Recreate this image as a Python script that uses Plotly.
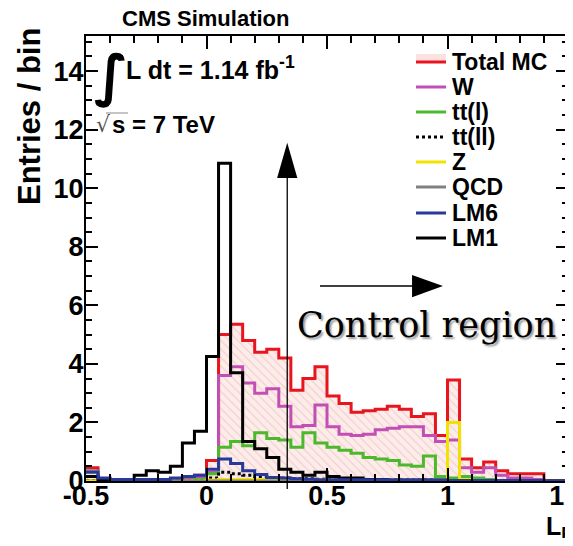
import plotly.graph_objects as go

# bin edges of L_P histograms (40 bins of 0.05 from -0.5 to 1.5)
bin_edges = [round(-0.5 + 0.05 * i, 2) for i in range(41)]

total_mc = [0.45, 0.05, 0.0, 0.0, 0.0, 0.0, 0.05, 0.05, 0.1, 0.2,
            0.7, 5.0, 5.35, 4.8, 4.4, 4.5, 4.2, 3.1, 3.5, 3.9,
            2.9, 2.65, 2.35, 2.4, 2.45, 2.55, 2.45, 2.2, 2.3, 1.55,
            3.45, 0.75, 0.45, 0.65, 0.35, 0.25, 0.25, 0.25, 0.0, 0.0]
w_jets = [0.0, 0.0, 0.0, 0.0, 0.0, 0.0, 0.0, 0.0, 0.05, 0.1,
          0.3, 3.6, 3.9, 3.35, 3.0, 3.15, 2.55, 1.85, 1.9, 2.6,
          1.85, 1.6, 1.55, 1.6, 1.75, 1.8, 1.85, 1.85, 1.55, 1.35,
          1.4, 0.45, 0.3, 0.45, 0.2, 0.1, 0.1, 0.05, 0.0, 0.0]
tt_l = [0.0, 0.0, 0.0, 0.0, 0.0, 0.0, 0.0, 0.0, 0.0, 0.05,
        0.25, 1.15, 1.35, 1.2, 1.65, 1.45, 1.4, 1.15, 1.65, 1.3,
        1.15, 1.05, 0.95, 0.8, 0.75, 0.7, 0.55, 0.5, 0.85, 0.15,
        0.1, 0.15, 0.1, 0.05, 0.0, 0.0, 0.0, 0.0, 0.0, 0.0]
tt_ll = [0.0, 0.0, 0.0, 0.0, 0.0, 0.0, 0.0, 0.0, 0.0, 0.0,
         0.1, 0.3, 0.25, 0.2, 0.15, 0.12, 0.1, 0.08, 0.08, 0.06,
         0.06, 0.05, 0.05, 0.05, 0.05, 0.05, 0.05, 0.05, 0.05, 0.03,
         0.0, 0.0, 0.0, 0.0, 0.0, 0.0, 0.0, 0.0, 0.0, 0.0]
z_jets = [0.0, 0.0, 0.0, 0.0, 0.0, 0.0, 0.0, 0.0, 0.0, 0.0,
          0.03, 0.05, 0.05, 0.05, 0.05, 0.05, 0.05, 0.03, 0.03, 0.03,
          0.03, 0.03, 0.03, 0.03, 0.03, 0.03, 0.03, 0.03, 0.03, 0.05,
          2.0, 0.05, 0.0, 0.0, 0.0, 0.0, 0.0, 0.0, 0.0, 0.0]
qcd = [0.35, 0.0, 0.0, 0.0, 0.0, 0.0, 0.0, 0.0, 0.0, 0.0,
       0.0, 0.0, 0.0, 0.0, 0.0, 0.0, 0.0, 0.0, 0.0, 0.0,
       0.0, 0.0, 0.0, 0.0, 0.0, 0.0, 0.0, 0.0, 0.0, 0.0,
       0.0, 0.0, 0.0, 0.0, 0.0, 0.0, 0.0, 0.0, 0.0, 0.0]
lm6 = [0.3, 0.1, 0.05, 0.05, 0.05, 0.05, 0.05, 0.1, 0.15, 0.2,
       0.4, 0.75, 0.6, 0.35, 0.22, 0.12, 0.1, 0.08, 0.06, 0.04,
       0.04, 0.04, 0.04, 0.04, 0.04, 0.04, 0.04, 0.04, 0.04, 0.04,
       0.02, 0.02, 0.02, 0.02, 0.02, 0.02, 0.02, 0.02, 0.0, 0.0]
lm1 = [0.15, 0.05, 0.0, 0.0, 0.2, 0.35, 0.3, 0.5, 1.3, 1.7,
       4.25, 10.85, 3.7, 1.35, 1.1, 0.8, 0.4, 0.3, 0.2, 0.3,
       0.15, 0.1, 0.1, 0.05, 0.05, 0.0, 0.0, 0.0, 0.0, 0.0,
       0.0, 0.0, 0.0, 0.0, 0.0, 0.0, 0.0, 0.0, 0.0, 0.0]

# name, values, colour, dash  (drawing order)
series = [
    ("Total MC", total_mc, "#e8141e", "solid"),
    ("W", w_jets, "#c24fb3", "solid"),
    ("tt(l)", tt_l, "#4cb82c", "solid"),
    ("tt(ll)", tt_ll, "#000000", "dot"),
    ("Z", z_jets, "#f2e200", "solid"),
    ("QCD", qcd, "#808080", "solid"),
    ("LM1", lm1, "#000000", "solid"),
    ("LM6", lm6, "#27399a", "solid"),
]
legend_order = ["Total MC", "W", "tt(l)", "tt(ll)", "Z", "QCD", "LM6", "LM1"]

FONT = "Liberation Sans"

# the page body has an 8px margin, so the figure is a bit smaller and
# everything below is given in window pixels
OFF = 8
FIG_W, FIG_H = 573 - OFF, 546 - 2 * OFF
PLOT_L, PLOT_R, PLOT_T, PLOT_B = 86 - OFF, 568 - OFF, 36 - OFF, 481 - OFF

def px(x):
    return (x - OFF - PLOT_L) / (PLOT_R - PLOT_L)

def py(y):
    return (PLOT_B - (y - OFF)) / (PLOT_B - PLOT_T)

fig = go.Figure()
for name, vals, col, dash in series:
    kw = {}
    if name == "Total MC":
        kw = dict(fill="tozeroy", fillcolor="#fbe6e4",
                  fillpattern=dict(shape="\\", fgcolor="#eaa9a6", bgcolor="#fcecea",
                                   size=6, solidity=0.18))
    fig.add_trace(go.Scatter(
        x=bin_edges, y=vals + [vals[-1]], mode="lines", name=name,
        line=dict(color=col, width=3, dash=dash, shape="hv"),
        showlegend=False, hoverinfo="skip", **kw))

shapes = []
annotations = []

# legend (drawn by hand, ROOT style)
styles = {n: (c, d) for n, _, c, d in series}
row_y = [62, 87, 112, 137, 162, 187, 213, 238]
for name, ry in zip(legend_order, row_y):
    col, dash = styles[name]
    if name == "Total MC":
        shapes.append(dict(type="rect", xref="paper", yref="paper",
                           x0=px(416), x1=px(446), y0=py(ry + 1), y1=py(ry - 8),
                           line=dict(width=0), fillcolor="#fbe2e0", layer="below"))
    shapes.append(dict(type="line", xref="paper", yref="paper",
                       x0=px(416), x1=px(446), y0=py(ry), y1=py(ry),
                       line=dict(color=col, width=3, dash=dash)))
    annotations.append(dict(text=name, xref="paper", yref="paper",
                            x=px(450), y=py(ry), xanchor="left", yanchor="middle",
                            showarrow=False,
                            font=dict(family=FONT, size=23, color="black", weight="bold")))

# arrows marking the control region
x_cut = 0.335
shapes.append(dict(type="line", xref="x", yref="paper", x0=x_cut, x1=x_cut,
                   y0=py(489), y1=py(170), line=dict(color="black", width=1.3)))
shapes.append(dict(type="path", xref="x", yref="y",
                   path=f"M {x_cut - 0.042},10.35 L {x_cut + 0.042},10.35 L {x_cut},11.55 Z",
                   fillcolor="black", line=dict(width=0)))
shapes.append(dict(type="line", xref="x", yref="y", x0=0.471, x1=0.86,
                   y0=6.66, y1=6.66, line=dict(color="black", width=1.3)))
shapes.append(dict(type="path", xref="x", yref="y",
                   path="M 0.853,6.28 L 0.853,7.04 L 0.981,6.66 Z",
                   fillcolor="black", line=dict(width=0)))

# sqrt overline
shapes.append(dict(type="line", xref="paper", yref="paper", x0=px(106), x1=px(128),
                   y0=py(113), y1=py(113), line=dict(color="#888888", width=1)))

annotations += [
    dict(text="CMS Simulation", xref="paper", yref="paper", x=px(120), y=py(18),
         xanchor="left", yanchor="middle", showarrow=False,
         font=dict(family=FONT, size=22, color="black", weight="bold")),
    dict(text="Entries / bin", xref="paper", yref="paper", x=px(30), y=py(117),
         xanchor="center", yanchor="middle", textangle=-90, showarrow=False,
         font=dict(family=FONT, size=31, color="black", weight="bold")),
    dict(text="∫", xref="paper", yref="paper", x=px(111), y=py(75),
         xanchor="center", yanchor="middle", showarrow=False,
         font=dict(family="DejaVu Sans", size=56, color="black", weight="bold")),
    dict(text="L dt = 1.14 fb<sup>-1</sup>", xref="paper", yref="paper", x=px(124), y=py(68),
         xanchor="left", yanchor="middle", showarrow=False,
         font=dict(family=FONT, size=25, color="black", weight="bold")),
    dict(text="√", xref="paper", yref="paper", x=px(94), y=py(125),
         xanchor="left", yanchor="middle", showarrow=False,
         font=dict(family="DejaVu Sans", size=22, color="#555555")),
    dict(text="s = 7 TeV", xref="paper", yref="paper", x=px(110), y=py(125),
         xanchor="left", yanchor="middle", showarrow=False,
         font=dict(family=FONT, size=24, color="black", weight="bold")),
    dict(text="Control region", xref="paper", yref="paper", x=px(295), y=py(325),
         xanchor="left", yanchor="middle", showarrow=False,
         font=dict(family="DejaVu Serif", size=35, color="black",
                   shadow="2px 2px 2px #9a9a9a")),
    dict(text="L<sub>P</sub>", xref="paper", yref="paper", x=px(544), y=py(528),
         xanchor="left", yanchor="middle", showarrow=False,
         font=dict(family=FONT, size=25, color="black", weight="bold")),
]

axis_common = dict(showline=True, linecolor="black", linewidth=2, mirror="ticks",
                   ticks="inside", tickcolor="black", tickwidth=1.5, showgrid=False,
                   zeroline=False, ticklabeloverflow="allow", automargin=False,
                   tickfont=dict(family=FONT, size=27, color="black", weight="bold"))

fig.update_layout(
    width=FIG_W, height=FIG_H,
    margin=dict(l=PLOT_L, r=FIG_W - PLOT_R, t=PLOT_T, b=FIG_H - PLOT_B),
    paper_bgcolor="white", plot_bgcolor="white",
    shapes=shapes, annotations=annotations,
    xaxis=dict(range=[-0.5, 1.5], tickvals=[-0.5, 0, 0.5, 1, 1.5],
               ticktext=["-0.5", "0", "0.5", "1", "1.5"], ticklen=13,
               ticklabelstandoff=-10,
               minor=dict(dtick=0.1, tick0=0, ticklen=7, ticks="inside", tickcolor="black"),
               **axis_common),
    yaxis=dict(range=[0, 15.2], dtick=2, tick0=0, ticklen=12, ticklabelstandoff=-5,
               minor=dict(dtick=0.5, ticklen=6, ticks="inside", tickcolor="black"),
               **axis_common),
)

fig.write_html("out.html")
